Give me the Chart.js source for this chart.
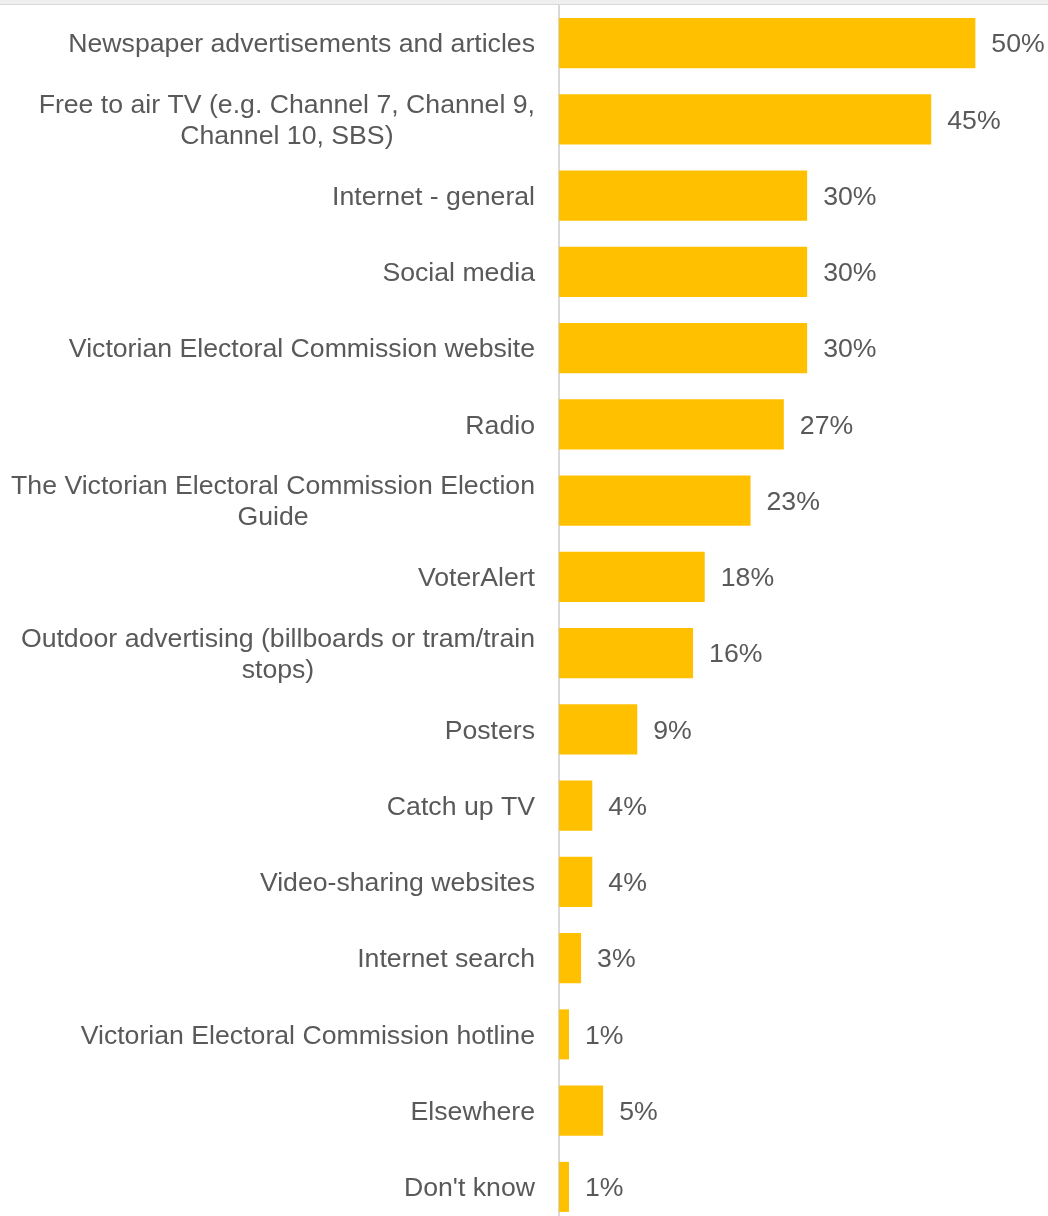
<!DOCTYPE html>
<html>
<head>
<meta charset="utf-8">
<script src="https://cdn.jsdelivr.net/npm/chart.js@4.4.1/dist/chart.umd.min.js"></script>
<style>
  html, body { margin: 0; padding: 0; background: #fff; overflow: hidden; }
  #band { height: 4px; background: #efefef; border-bottom: 1px solid #d9d9d9; }
  #wrap { position: relative; width: 1048px; height: 1220px; }
</style>
</head>
<body>
<div id="band"></div>
<div id="wrap"><canvas id="chart"></canvas></div>
<script>
// 类别（多行的用数组）
const categories = [
  'Newspaper advertisements and articles',
  ['Free to air TV (e.g. Channel 7, Channel 9,', 'Channel 10, SBS)'],
  'Internet - general',
  'Social media',
  'Victorian Electoral Commission website',
  'Radio',
  ['The Victorian Electoral Commission Election', 'Guide'],
  'VoterAlert',
  ['Outdoor advertising (billboards or tram/train', 'stops)'],
  'Posters',
  'Catch up TV',
  'Video-sharing websites',
  'Internet search',
  'Victorian Electoral Commission hotline',
  'Elsewhere',
  "Don't know"
];
// 条形长度（从图上估计）
const values = [50, 44.7, 29.8, 29.8, 29.8, 27.0, 23.0, 17.5, 16.1, 9.4, 4.0, 4.0, 2.65, 1.2, 5.3, 1.2];
// 显示的数值标签
const valueLabels = ['50%', '45%', '30%', '30%', '30%', '27%', '23%', '18%', '16%', '9%', '4%', '4%', '3%', '1%', '5%', '1%'];

const FONT = '26.67px "Liberation Sans", Arial, sans-serif';
const TEXT_COLOR = '#595959';

// 左侧类别标签：整体右对齐，多行之间居中
const categoryLabelPlugin = {
  id: 'categoryLabels',
  afterDraw(chart) {
    const ctx = chart.ctx;
    const yScale = chart.scales.y;
    ctx.save();
    ctx.font = FONT;
    ctx.fillStyle = TEXT_COLOR;
    ctx.textAlign = 'center';
    ctx.textBaseline = 'middle';
    categories.forEach((label, i) => {
      const lines = Array.isArray(label) ? label : [label];
      const maxW = Math.max(...lines.map(l => ctx.measureText(l).width));
      const cx = 535 - maxW / 2;
      const y = yScale.getPixelForValue(i) + 2;
      lines.forEach((line, j) => {
        ctx.fillText(line, cx, y + (j - (lines.length - 1) / 2) * 31);
      });
    });
    ctx.restore();
  }
};

// 条形末端的数值标签
const valueLabelPlugin = {
  id: 'valueLabels',
  afterDatasetsDraw(chart) {
    const ctx = chart.ctx;
    const meta = chart.getDatasetMeta(0);
    ctx.save();
    ctx.font = FONT;
    ctx.fillStyle = TEXT_COLOR;
    ctx.textAlign = 'left';
    ctx.textBaseline = 'middle';
    meta.data.forEach((bar, i) => {
      ctx.fillText(valueLabels[i], bar.x + 16, bar.y + 2);
    });
    ctx.restore();
  }
};

new Chart(document.getElementById('chart'), {
  type: 'bar',
  data: {
    labels: categories,
    datasets: [{
      data: values,
      backgroundColor: '#FFC000',
      borderWidth: 0,
      categoryPercentage: 1,
      barPercentage: 0.656
    }]
  },
  options: {
    indexAxis: 'y',
    responsive: true,
    maintainAspectRatio: false,
    animation: false,
    layout: { padding: { top: 0, bottom: 0, left: 0, right: 31 } },
    plugins: {
      legend: { display: false },
      tooltip: { enabled: false }
    },
    scales: {
      x: {
        display: false,
        min: 0,
        max: 55
      },
      y: {
        grid: { display: false },
        border: { display: true, color: '#d9d9d9', width: 2 },
        ticks: { display: false },
        afterFit(scale) { scale.width = 559; }
      }
    }
  },
  plugins: [categoryLabelPlugin, valueLabelPlugin]
});
</script>
</body>
</html>
